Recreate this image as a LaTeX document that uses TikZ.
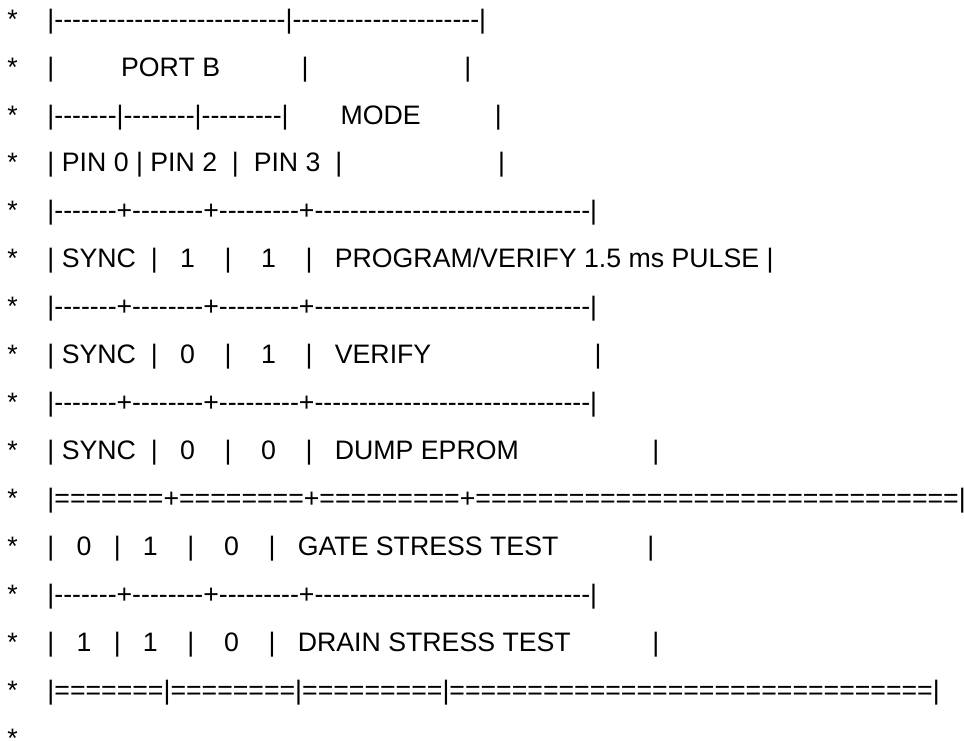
\documentclass[tikz,border=0pt]{standalone}
\usepackage{fontspec}
\newfontfamily\asciifont{Liberation Sans}[Ligatures=TeXOff]
\ExplSyntaxOn
\cs_new:Npn \reprun #1#2 { \prg_replicate:nn {#1} {#2} }
\ExplSyntaxOff
\tikzset{
  asciiline/.style={anchor=base west, inner sep=0pt, outer sep=0pt,
    font=\asciifont\fontsize{26.7}{48}\selectfont, text=black},
}
\begin{document}
\begin{tikzpicture}[x=1pt,y=1pt]
\fill[white] (0,0) rectangle (964,-740);
\useasboundingbox (0,0) rectangle (964,-740);
\def\lead{~*~~~~}
\def\pitch{47.95}
\node[asciiline] (r1) at (0,-28.1) {\lead|\reprun{26}{-}|\reprun{21}{-}|};
\node[asciiline] (r2) at (0,{-28.1-1*\pitch}) {\lead|\reprun{9}{~}PORT~B\reprun{11}{~}|\reprun{21}{~}|};
\node[asciiline] (r3) at (0,{-28.1-2*\pitch}) {\lead|\reprun{7}{-}|\reprun{8}{-}|\reprun{9}{-}|\reprun{7}{~}MODE\reprun{10}{~}|};
\node[asciiline] (r4) at (0,{-28.1-3*\pitch}) {\lead|~PIN~0~|~PIN~2~~|~~PIN~3~~|\reprun{21}{~}|};
\node[asciiline] (r5) at (0,{-28.1-4*\pitch}) {\lead|\reprun{7}{-}+\reprun{8}{-}+\reprun{9}{-}+\reprun{31}{-}|};
\node[asciiline] (r6) at (0,{-28.1-5*\pitch}) {\lead|~SYNC~~|~~~1~~~~|~~~~1~~~~|~~~PROGRAM/VERIFY~1.5~ms~PULSE~|};
\node[asciiline] (r7) at (0,{-28.1-6*\pitch}) {\lead|\reprun{7}{-}+\reprun{8}{-}+\reprun{9}{-}+\reprun{31}{-}|};
\node[asciiline] (r8) at (0,{-28.1-7*\pitch}) {\lead|~SYNC~~|~~~0~~~~|~~~~1~~~~|~~~VERIFY\reprun{22}{~}|};
\node[asciiline] (r9) at (0,{-28.1-8*\pitch}) {\lead|\reprun{7}{-}+\reprun{8}{-}+\reprun{9}{-}+\reprun{31}{-}|};
\node[asciiline] (r10) at (0,{-28.1-9*\pitch}) {\lead|~SYNC~~|~~~0~~~~|~~~~0~~~~|~~~DUMP~EPROM\reprun{18}{~}|};
\node[asciiline] (r11) at (0,{-28.1-10*\pitch}) {\lead|\reprun{7}{=}+\reprun{8}{=}+\reprun{9}{=}+\reprun{31}{=}|};
\node[asciiline] (r12) at (0,{-28.1-11*\pitch}) {\lead|~~~0~~~|~~~1~~~~|~~~~0~~~~|~~~GATE~STRESS~TEST\reprun{12}{~}|};
\node[asciiline] (r13) at (0,{-28.1-12*\pitch}) {\lead|\reprun{7}{-}+\reprun{8}{-}+\reprun{9}{-}+\reprun{31}{-}|};
\node[asciiline] (r14) at (0,{-28.1-13*\pitch}) {\lead|~~~1~~~|~~~1~~~~|~~~~0~~~~|~~~DRAIN~STRESS~TEST\reprun{11}{~}|};
\node[asciiline] (r15) at (0,{-28.1-14*\pitch}) {\lead|\reprun{7}{=}|\reprun{8}{=}|\reprun{9}{=}|\reprun{31}{=}|};
\node[asciiline] (r16) at (0,{-28.1-15*\pitch}) {~*};
\end{tikzpicture}
\end{document}
